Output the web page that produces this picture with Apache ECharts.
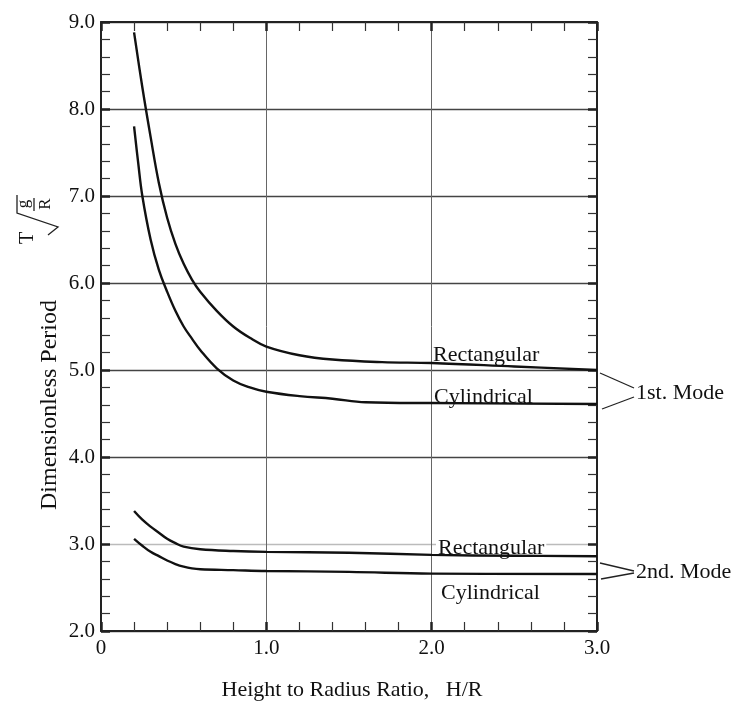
<!DOCTYPE html>
<html><head><meta charset="utf-8">
<script src="https://cdn.jsdelivr.net/npm/echarts@6/dist/echarts.min.js"></script>
<style>html,body{margin:0;padding:0;background:#fff}#c{width:734px;height:706px}</style>
</head><body><div id="c"></div>
<script>
// ---- data ----
const rect1X = [0.2, 0.25, 0.3, 0.35, 0.4, 0.45, 0.5, 0.55, 0.6, 0.7, 0.8, 0.9, 1.0, 1.2, 1.4, 1.7, 2.0, 2.5, 3.0];
const rect1Y = [8.88, 8.25, 7.68, 7.15, 6.75, 6.45, 6.22, 6.04, 5.9, 5.68, 5.5, 5.37, 5.27, 5.17, 5.12, 5.09, 5.08, 5.04, 5.0];
const cyl1X = [0.2, 0.225, 0.25, 0.3, 0.35, 0.4, 0.45, 0.5, 0.55, 0.6, 0.7, 0.8, 0.9, 1.0, 1.2, 1.4, 1.6, 2.0, 3.0];
const cyl1Y = [7.8, 7.38, 7.0, 6.5, 6.15, 5.9, 5.68, 5.5, 5.36, 5.23, 5.02, 4.88, 4.8, 4.75, 4.70, 4.67, 4.63, 4.62, 4.61];
const rect2X = [0.2, 0.25, 0.3, 0.35, 0.4, 0.45, 0.5, 0.6, 0.8, 1.0, 1.5, 2.0, 2.5, 3.0];
const rect2Y = [3.38, 3.28, 3.2, 3.13, 3.06, 3.01, 2.97, 2.94, 2.92, 2.91, 2.90, 2.875, 2.865, 2.86];
const cyl2X = [0.2, 0.25, 0.3, 0.35, 0.4, 0.45, 0.5, 0.55, 0.6, 0.8, 1.0, 1.5, 2.0, 3.0];
const cyl2Y = [3.06, 2.98, 2.91, 2.86, 2.81, 2.77, 2.74, 2.72, 2.71, 2.70, 2.69, 2.68, 2.66, 2.655];
const xTickLabels = ['0', '1.0', '2.0', '3.0'];
const yTickLabels = ['2.0', '3.0', '4.0', '5.0', '6.0', '7.0', '8.0', '9.0'];
const xTitle = 'Height to Radius Ratio,   H/R';
const yTitle = 'Dimensionless Period';
const seriesNames = ['Rectangular 1st', 'Cylindrical 1st', 'Rectangular 2nd', 'Cylindrical 2nd'];

// ---- chart ----
const FONT = '"Liberation Serif", "DejaVu Serif", serif';
const chart = echarts.init(document.getElementById('c'), null, {renderer: 'canvas'});
const pairs = (xs, ys) => xs.map((x, i) => [x, ys[i]]);
const lineSeries = (name, xs, ys) => ({
  name, type: 'line', data: pairs(xs, ys), symbol: 'none', smooth: 0.4,
  lineStyle: {color: '#111', width: 2.4}, z: 5, animation: false
});
const tickCommon = () => ({
  axisLine: {show: true, onZero: false, lineStyle: {color: '#222', width: 2}},
  axisTick: {show: true, inside: true, length: 9, lineStyle: {color: '#222', width: 2.5}},
  minorTick: {show: true, splitNumber: 5, length: 9, lineStyle: {color: '#333', width: 1.2}},
});
chart.setOption({
  animation: false,
  backgroundColor: '#fff',
  grid: {left: 101, right: 137, top: 22, bottom: 69},
  xAxis: [
    Object.assign({
      type: 'value', min: 0, max: 3, interval: 1, position: 'bottom',
      axisLabel: {
        formatter: v => xTickLabels[Math.round(v)], fontFamily: FONT, fontSize: 21,
        color: '#111', margin: 7
      },
      splitLine: {show: true, lineStyle: {color: '#666', width: 1}},
      name: xTitle, nameLocation: 'middle', nameGap: 48,
      nameTextStyle: {fontFamily: FONT, fontSize: 22, color: '#111', padding: [0, 0, 0, 6]}
    }, tickCommon()),
    Object.assign({
      type: 'value', min: 0, max: 3, interval: 1, position: 'top',
      axisLabel: {show: false}, splitLine: {show: false}
    }, tickCommon())
  ],
  yAxis: [
    Object.assign({
      type: 'value', min: 2, max: 9, interval: 1, position: 'left',
      axisLabel: {
        formatter: v => yTickLabels[Math.round(v) - 2], fontFamily: FONT, fontSize: 21,
        color: '#111', margin: 6
      },
      splitLine: {show: true, lineStyle: {color: ['#444', '#bbb', '#444', '#444', '#444', '#444', '#444', '#444'], width: 1.3}}
    }, tickCommon()),
    Object.assign({
      type: 'value', min: 2, max: 9, interval: 1, position: 'right',
      axisLabel: {show: false}, splitLine: {show: false}
    }, tickCommon())
  ],
  series: [
    lineSeries(seriesNames[0], rect1X, rect1Y),
    lineSeries(seriesNames[1], cyl1X, cyl1Y),
    lineSeries(seriesNames[2], rect2X, rect2Y),
    lineSeries(seriesNames[3], cyl2X, cyl2Y)
  ],
  graphic: [
    {type: 'text', x: 50, y: 405, rotation: Math.PI / 2,
     style: {text: yTitle, font: '24px ' + FONT, fill: '#111', align: 'center', verticalAlign: 'middle'}},
    {type: 'text', x: 28, y: 238, rotation: Math.PI / 2,
     style: {text: 'T', font: '20px ' + FONT, fill: '#111', align: 'center', verticalAlign: 'middle'}},
    {type: 'text', x: 24, y: 204, rotation: Math.PI / 2,
     style: {text: 'g', font: '17px ' + FONT, fill: '#111', align: 'center', verticalAlign: 'middle'}},
    {type: 'text', x: 46, y: 204, rotation: Math.PI / 2,
     style: {text: 'R', font: '17px ' + FONT, fill: '#111', align: 'center', verticalAlign: 'middle'}},
    {type: 'line', shape: {x1: 34, y1: 198, x2: 34, y2: 211}, style: {stroke: '#222', lineWidth: 1.3}},
    {type: 'polyline', shape: {points: [[17, 195], [17, 213], [58, 227], [48, 235]]},
     style: {stroke: '#222', lineWidth: 1.3, fill: null}},
    {type: 'text', x: 433, y: 355, style: {text: 'Rectangular', font: '22px ' + FONT, fill: '#111', align: 'left', verticalAlign: 'middle'}},
    {type: 'text', x: 434, y: 397, style: {text: 'Cylindrical', font: '22px ' + FONT, fill: '#111', align: 'left', verticalAlign: 'middle'}},
    {type: 'text', x: 636, y: 393, style: {text: '1st. Mode', font: '22px ' + FONT, fill: '#111', align: 'left', verticalAlign: 'middle'}},
    {type: 'polyline', shape: {points: [[600, 373], [634, 388]]}, style: {stroke: '#222', lineWidth: 1.3, fill: null}},
    {type: 'polyline', shape: {points: [[602, 409], [634, 397]]}, style: {stroke: '#222', lineWidth: 1.3, fill: null}},
    {type: 'text', x: 436, y: 548, z: 2, style: {text: 'Rectangular', font: '22px ' + FONT, fill: '#111', align: 'left', verticalAlign: 'middle', backgroundColor: '#fff', padding: [0, 2]}},
    {type: 'text', x: 441, y: 593, style: {text: 'Cylindrical', font: '22px ' + FONT, fill: '#111', align: 'left', verticalAlign: 'middle'}},
    {type: 'text', x: 636, y: 572, style: {text: '2nd. Mode', font: '22px ' + FONT, fill: '#111', align: 'left', verticalAlign: 'middle'}},
    {type: 'polyline', shape: {points: [[600, 563], [634, 571]]}, style: {stroke: '#222', lineWidth: 1.3, fill: null}},
    {type: 'polyline', shape: {points: [[601, 579], [634, 573]]}, style: {stroke: '#222', lineWidth: 1.3, fill: null}}
  ]
});
</script>
</body></html>
